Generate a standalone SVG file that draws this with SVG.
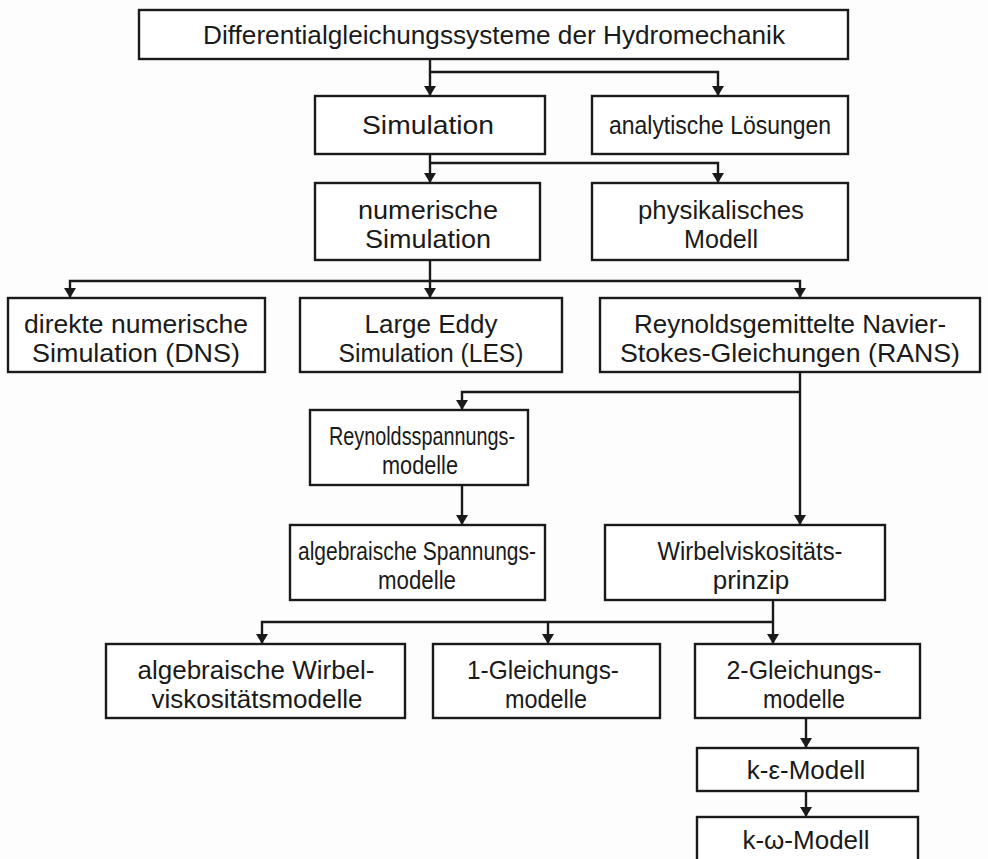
<svg xmlns="http://www.w3.org/2000/svg" width="988" height="859" viewBox="0 0 988 859">
<defs>
<marker id="ah" viewBox="0 0 10 12" refX="10" refY="6" markerWidth="14" markerHeight="12" markerUnits="userSpaceOnUse" orient="auto">
<path d="M0,0 L10,6 L0,12 z" fill="#1a1a1a"/>
</marker>
<style>
.box{fill:#fff;stroke:#1a1a1a;stroke-width:2.4}
.t{font-family:"Liberation Sans",Arial,sans-serif;font-size:26px;fill:#1a1a1a;text-anchor:middle}
.c{fill:none;stroke:#1a1a1a;stroke-width:2.4}
</style>
</defs>
<rect width="988" height="859" fill="#fdfdfd"/>
<g id="connectors">
<path class="c" d="M430,59 V96" marker-end="url(#ah)"/>
<path class="c" d="M430,72 H718 V96" marker-end="url(#ah)"/>
<path class="c" d="M430,154 V183" marker-end="url(#ah)"/>
<path class="c" d="M430,163 H718 V183" marker-end="url(#ah)"/>
<path class="c" d="M430,260 V298" marker-end="url(#ah)"/>
<path class="c" d="M430,281 H70 V298" marker-end="url(#ah)"/>
<path class="c" d="M430,281 H800 V298" marker-end="url(#ah)"/>
<path class="c" d="M800,372 V525" marker-end="url(#ah)"/>
<path class="c" d="M800,392 H462 V410" marker-end="url(#ah)"/>
<path class="c" d="M462,485 V525" marker-end="url(#ah)"/>
<path class="c" d="M773,600 V644" marker-end="url(#ah)"/>
<path class="c" d="M773,622 H262 V644" marker-end="url(#ah)"/>
<path class="c" d="M548,622 V644" marker-end="url(#ah)"/>
<path class="c" d="M806,718 V748" marker-end="url(#ah)"/>
<path class="c" d="M806,791 V817" marker-end="url(#ah)"/>
</g>
<g id="n-top"><rect class="box" x="139" y="10" width="709" height="49"/><text class="t" x="494" y="44" textLength="582" lengthAdjust="spacingAndGlyphs">Differentialgleichungssysteme der Hydromechanik</text></g>
<g id="n-sim"><rect class="box" x="315" y="96" width="230" height="58"/><text class="t" x="428" y="134" textLength="132" lengthAdjust="spacingAndGlyphs">Simulation</text></g>
<g id="n-ana"><rect class="box" x="592" y="96" width="256" height="58"/><text class="t" x="720" y="134" textLength="222" lengthAdjust="spacingAndGlyphs">analytische Lösungen</text></g>
<g id="n-num"><rect class="box" x="315" y="183" width="225" height="77"/><text class="t" x="428" y="219" textLength="140" lengthAdjust="spacingAndGlyphs">numerische</text><text class="t" x="428" y="248" textLength="126" lengthAdjust="spacingAndGlyphs">Simulation</text></g>
<g id="n-phys"><rect class="box" x="592" y="183" width="256" height="77"/><text class="t" x="721" y="219" textLength="166" lengthAdjust="spacingAndGlyphs">physikalisches</text><text class="t" x="721" y="248" textLength="74" lengthAdjust="spacingAndGlyphs">Modell</text></g>
<g id="n-dns"><rect class="box" x="8" y="298" width="257" height="74"/><text class="t" x="136" y="333" textLength="224" lengthAdjust="spacingAndGlyphs">direkte numerische</text><text class="t" x="136" y="362" textLength="208" lengthAdjust="spacingAndGlyphs">Simulation (DNS)</text></g>
<g id="n-les"><rect class="box" x="300" y="298" width="262" height="74"/><text class="t" x="431" y="333">Large Eddy</text><text class="t" x="431" y="362" textLength="185" lengthAdjust="spacingAndGlyphs">Simulation (LES)</text></g>
<g id="n-rans"><rect class="box" x="600" y="298" width="380" height="74"/><text class="t" x="790" y="333">Reynoldsgemittelte Navier-</text><text class="t" x="790" y="362" textLength="340" lengthAdjust="spacingAndGlyphs">Stokes-Gleichungen (RANS)</text></g>
<g id="n-rsm"><rect class="box" x="310" y="410" width="218" height="75"/><text class="t" x="422" y="445" textLength="186" lengthAdjust="spacingAndGlyphs">Reynoldsspannungs-</text><text class="t" x="420" y="474" textLength="76" lengthAdjust="spacingAndGlyphs">modelle</text></g>
<g id="n-asm"><rect class="box" x="290" y="525" width="255" height="75"/><text class="t" x="417" y="560" textLength="238" lengthAdjust="spacingAndGlyphs">algebraische Spannungs-</text><text class="t" x="417" y="589" textLength="78" lengthAdjust="spacingAndGlyphs">modelle</text></g>
<g id="n-wvp"><rect class="box" x="605" y="525" width="280" height="75"/><text class="t" x="750" y="560" textLength="185" lengthAdjust="spacingAndGlyphs">Wirbelviskositäts-</text><text class="t" x="751" y="589">prinzip</text></g>
<g id="n-awm"><rect class="box" x="106" y="644" width="299" height="74"/><text class="t" x="256" y="679">algebraische Wirbel-</text><text class="t" x="257" y="708">viskositätsmodelle</text></g>
<g id="n-g1"><rect class="box" x="433" y="644" width="227" height="74"/><text class="t" x="543" y="679" textLength="152" lengthAdjust="spacingAndGlyphs">1-Gleichungs-</text><text class="t" x="546" y="708" textLength="82" lengthAdjust="spacingAndGlyphs">modelle</text></g>
<g id="n-g2"><rect class="box" x="695" y="644" width="225" height="74"/><text class="t" x="804" y="679" textLength="155" lengthAdjust="spacingAndGlyphs">2-Gleichungs-</text><text class="t" x="804" y="708" textLength="82" lengthAdjust="spacingAndGlyphs">modelle</text></g>
<g id="n-ke"><rect class="box" x="697" y="748" width="221" height="43"/><text class="t" x="806" y="779">k-ε-Modell</text></g>
<g id="n-kw"><rect class="box" x="697" y="817" width="221" height="50"/><text class="t" x="806" y="849">k-ω-Modell</text></g>
</svg>
